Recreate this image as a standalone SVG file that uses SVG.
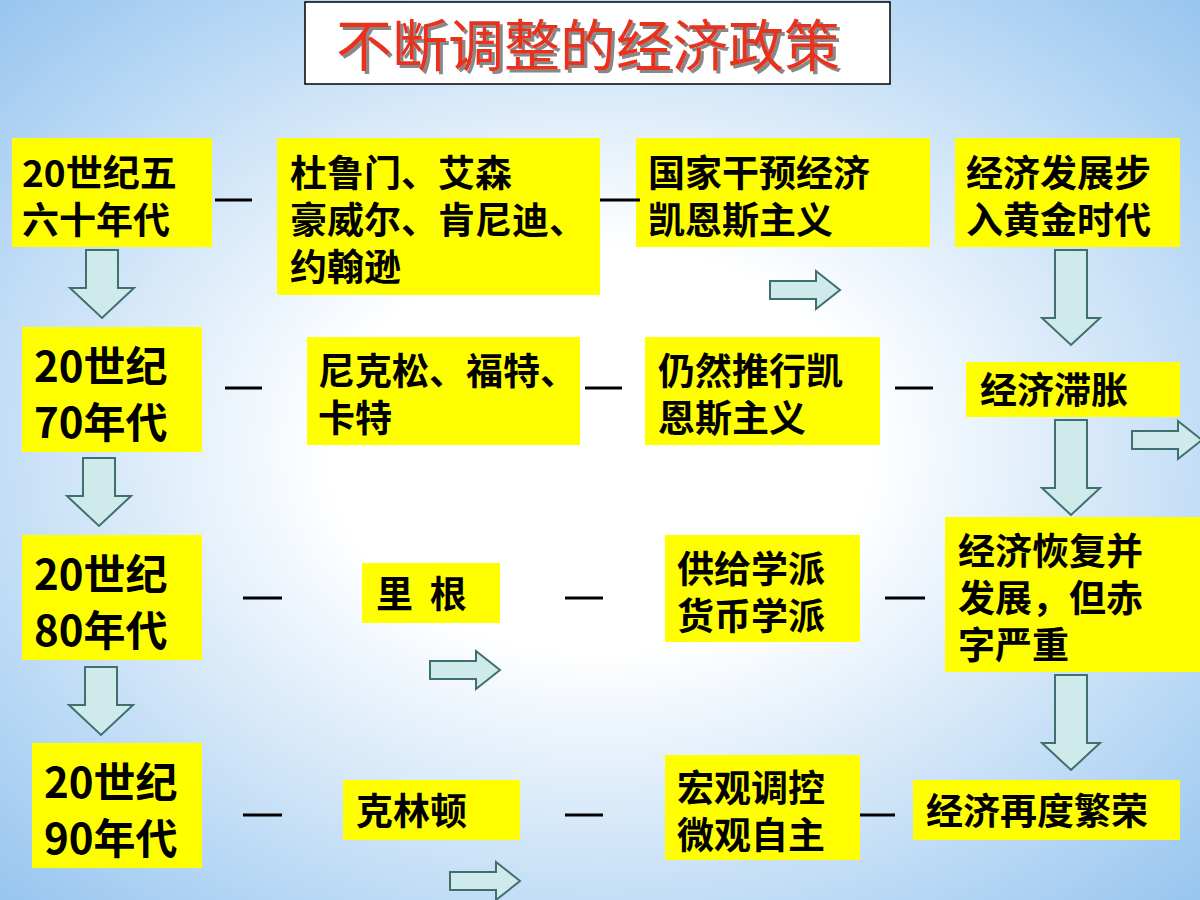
<svg xmlns="http://www.w3.org/2000/svg" width="1200" height="900" viewBox="0 0 1200 900">
<defs>
<radialGradient id="bg" cx="50%" cy="50%" r="75%">
<stop offset="0.3" stop-color="#ffffff"/>
<stop offset="1" stop-color="#8ec0ee"/>
</radialGradient>
<filter id="sh" x="-10%" y="-40%" width="120%" height="180%"><feDropShadow dx="3" dy="3" stdDeviation="0.5" flood-color="#888"/></filter>
<path id="da" d="M-16,0 H16 V38 H32 L0,68 L-32,38 H-16 Z"/>
<path id="ra" d="M0,-9 H46 V-19 L70,0 L46,19 V9 H0 Z"/>
</defs>
<style>
.b{fill:#ffff00}
.t{font-family:"Noto Sans CJK SC","Liberation Sans",sans-serif;fill:#000;font-weight:bold}
.s{font-size:37px}.l{font-size:42px}
.d{stroke:#000;stroke-width:3}
.ar{fill:#cfeaea;stroke:#3f6f6f;stroke-width:2}
</style>
<rect width="1200" height="900" fill="url(#bg)"/>
<g id="title">
<rect x="305" y="2" width="585" height="82" fill="#fff" stroke="#000" stroke-width="1.5"/>
<text x="588" y="66" text-anchor="middle" font-family="Noto Sans CJK SC,sans-serif" font-size="56" fill="#e8321e" filter="url(#sh)">不断调整的经济政策</text>
</g>
<g id="n1"><rect class="b" x="12" y="138" width="200" height="109"/><text class="t s" x="22" y="187">20世纪五</text><text class="t s" x="22" y="234">六十年代</text></g>
<g id="n2"><rect class="b" x="277" y="138" width="323" height="157"/><text class="t s" x="290" y="187">杜鲁门、艾森</text><text class="t s" x="290" y="234">豪威尔、肯尼迪、</text><text class="t s" x="290" y="281">约翰逊</text></g>
<g id="n3"><rect class="b" x="636" y="138" width="294" height="109"/><text class="t s" x="648" y="187">国家干预经济</text><text class="t s" x="648" y="234">凯恩斯主义</text></g>
<g id="n4"><rect class="b" x="955" y="138" width="225" height="109"/><text class="t s" x="966" y="187">经济发展步</text><text class="t s" x="966" y="234">入黄金时代</text></g>
<g id="n5"><rect class="b" x="22" y="327" width="180" height="125"/><text class="t l" x="34" y="382">20世纪</text><text class="t l" x="34" y="438">70年代</text></g>
<g id="n6"><rect class="b" x="307" y="337" width="273" height="108"/><text class="t s" x="318" y="385">尼克松、福特、</text><text class="t s" x="318" y="432">卡特</text></g>
<g id="n7"><rect class="b" x="645" y="337" width="235" height="108"/><text class="t s" x="658" y="385">仍然推行凯</text><text class="t s" x="658" y="432">恩斯主义</text></g>
<g id="n8"><rect class="b" x="966" y="362" width="214" height="55"/><text class="t s" x="980" y="404">经济滞胀</text></g>
<g id="n9"><rect class="b" x="22" y="535" width="180" height="125"/><text class="t l" x="34" y="590">20世纪</text><text class="t l" x="34" y="646">80年代</text></g>
<g id="n10"><rect class="b" x="362" y="563" width="138" height="60"/><text class="t s" x="376" y="608" xml:space="preserve">里  根</text></g>
<g id="n11"><rect class="b" x="665" y="535" width="195" height="107"/><text class="t s" x="677" y="583">供给学派</text><text class="t s" x="677" y="630">货币学派</text></g>
<g id="n12"><rect class="b" x="945" y="517" width="255" height="155"/><text class="t s" x="958" y="565">经济恢复并</text><text class="t s" x="958" y="612">发展，但赤</text><text class="t s" x="958" y="659">字严重</text></g>
<g id="n13"><rect class="b" x="32" y="743" width="170" height="125"/><text class="t l" x="44" y="798">20世纪</text><text class="t l" x="44" y="854">90年代</text></g>
<g id="n14"><rect class="b" x="343" y="780" width="177" height="60"/><text class="t s" x="356" y="825">克林顿</text></g>
<g id="n15"><rect class="b" x="665" y="755" width="195" height="105"/><text class="t s" x="677" y="802">宏观调控</text><text class="t s" x="677" y="849">微观自主</text></g>
<g id="n16"><rect class="b" x="913" y="780" width="267" height="60"/><text class="t s" x="926" y="825">经济再度繁荣</text></g>
<g id="connectors">
<path class="d" d="M215,200H252M600,200H640M225,388H262M585,388H622M895,388H933M243,598H282M565,598H603M885,598H925M243,815H282M565,815H603M860,815H895"/>
<use href="#da" class="ar" x="102" y="250"/>
<use href="#da" class="ar" x="99" y="458"/>
<use href="#da" class="ar" x="101" y="667"/>
<path class="ar" d="M1055,250H1087V318H1100L1071,345L1042,318H1055Z"/>
<path class="ar" d="M1055,420H1087V488H1100L1071,515L1042,488H1055Z"/>
<path class="ar" d="M1055,675H1087V743H1100L1071,770L1042,743H1055Z"/>
<use href="#ra" class="ar" x="770" y="290"/>
<use href="#ra" class="ar" x="430" y="670"/>
<use href="#ra" class="ar" x="1132" y="440"/>
<use href="#ra" class="ar" x="450" y="881"/>
</g>
</svg>
